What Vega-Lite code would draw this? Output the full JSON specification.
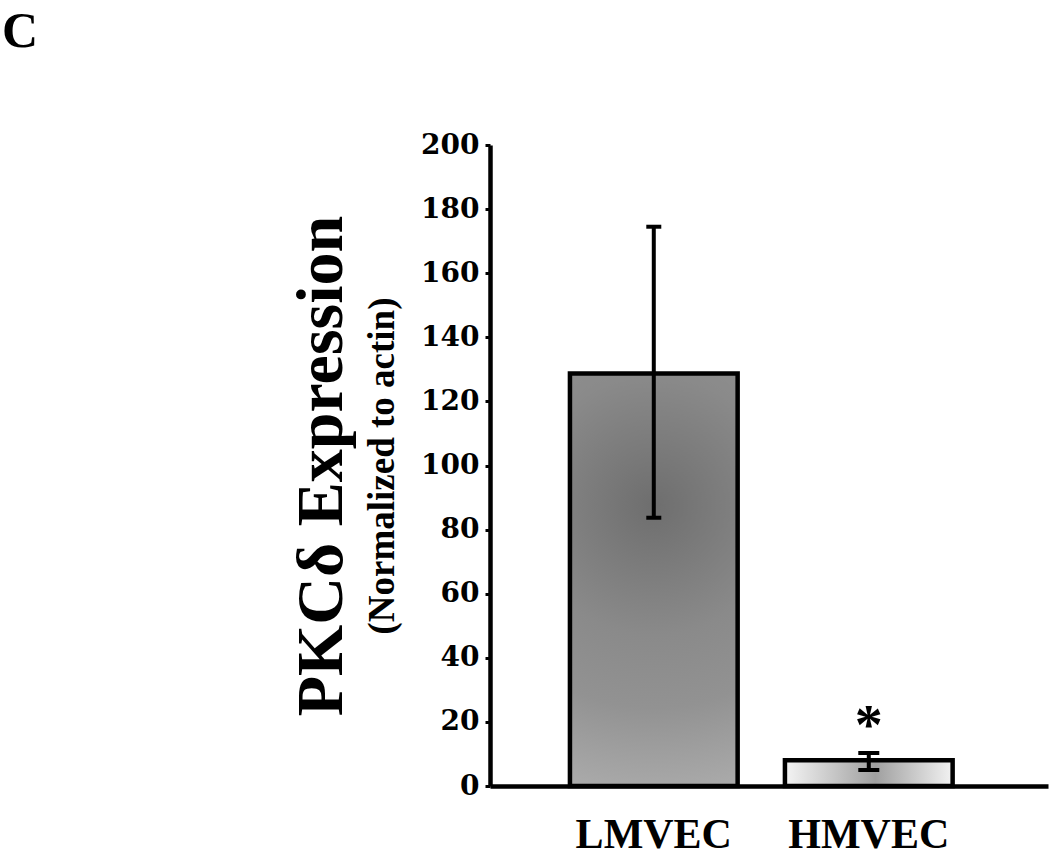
{
  "$schema": "https://vega.github.io/schema/vega-lite/v6.json",
  "width": 558,
  "height": 641,
  "autosize": "none",
  "padding": {"left": 490, "top": 145, "right": 2, "bottom": 71},
  "background": "white",
  "config": {"view": {"stroke": null}},
  "title": {"text": "C", "anchor": "start", "frame": "group", "font": "Liberation Serif", "fontSize": 50, "fontWeight": "bold", "color": "black", "dx": -488, "dy": -70},
  "data": {"values": [
    {"cell": "LMVEC", "mean": 128.7, "lower": 83.7, "upper": 174.5, "sig": ""},
    {"cell": "HMVEC", "mean": 8.0, "lower": 5.0, "upper": 10.3, "sig": "*"}
  ]},
  "encoding": {
    "x": {"field": "cell", "type": "nominal", "sort": ["LMVEC", "HMVEC"],
      "scale": {"paddingInner": 0.22, "paddingOuter": 0.4077, "align": 0.456},
      "axis": {"title": null, "labelFont": "Liberation Serif", "labelFontSize": 42, "labelFontWeight": "bold", "labelColor": "black", "ticks": false, "domainColor": "black", "domainWidth": 4.5, "labelPadding": 28, "labelAngle": 0}}
  },
  "layer": [
    {
      "mark": {"type": "bar", "stroke": "black", "strokeWidth": 4.5, "filled": true},
      "encoding": {
        "y": {"field": "mean", "type": "quantitative", "scale": {"domain": [0, 200]},
          "axis": {"title": "(Normalized to actin)", "titleFont": "Liberation Serif", "titleFontSize": 37, "titleFontWeight": "bold", "titleColor": "black", "titleBaseline": "alphabetic", "titlePadding": 27,
            "values": [0, 20, 40, 60, 80, 100, 120, 140, 160, 180, 200],
            "labelFont": "DejaVu Serif", "labelFontSize": 28, "labelFontWeight": "bold", "labelColor": "black", "labelPadding": 6, "labelFlush": false, "labelOverlap": false,
            "tickSize": 5, "tickWidth": 3, "tickColor": "black", "domainColor": "black", "domainWidth": 4.5, "grid": false}},
        "fill": {
          "condition": {"test": "datum.cell === 'LMVEC'", "value": {"gradient": "radial", "x1": 0.5, "y1": 0.32, "r1": 0, "x2": 0.5, "y2": 0.32, "r2": 0.7,
            "stops": [{"offset": 0, "color": "#6e6e6e"}, {"offset": 0.45, "color": "#8a8a8a"}, {"offset": 0.7, "color": "#929292"}, {"offset": 1, "color": "#aaaaaa"}]}},
          "value": {"gradient": "linear", "x1": 0, "y1": 0, "x2": 1, "y2": 0,
            "stops": [{"offset": 0, "color": "#f4f4f4"}, {"offset": 0.54, "color": "#a0a0a0"}, {"offset": 1, "color": "#f2f2f2"}]}
        }
      }
    },
    {
      "mark": {"type": "rule", "strokeWidth": 4, "color": "black"},
      "encoding": {
        "y": {"field": "lower", "type": "quantitative",
          "axis": {"orient": "left", "title": "PKCδ Expression", "titleFont": "Liberation Serif", "titleFontSize": 66, "titleFontWeight": "bold", "titleColor": "black", "titleBaseline": "alphabetic", "titlePadding": 149,
            "labels": false, "ticks": false, "domain": false, "grid": false}},
        "y2": {"field": "upper"}
      }
    },
    {
      "mark": {"type": "tick", "thickness": 4, "color": "black", "opacity": 1},
      "encoding": {
        "y": {"field": "upper", "type": "quantitative", "axis": null},
        "size": {"condition": {"test": "datum.cell === 'HMVEC'", "value": 21}, "value": 15}
      }
    },
    {
      "mark": {"type": "tick", "thickness": 4, "color": "black", "opacity": 1},
      "encoding": {
        "y": {"field": "lower", "type": "quantitative", "axis": null},
        "size": {"condition": {"test": "datum.cell === 'HMVEC'", "value": 21}, "value": 15}
      }
    },
    {
      "mark": {"type": "text", "font": "Liberation Serif", "fontSize": 56, "fontWeight": "bold", "baseline": "alphabetic", "dy": -9, "color": "black"},
      "encoding": {
        "y": {"field": "upper", "type": "quantitative", "axis": null},
        "text": {"field": "sig"}
      }
    }
  ],
  "resolve": {"axis": {"y": "independent"}}
}
